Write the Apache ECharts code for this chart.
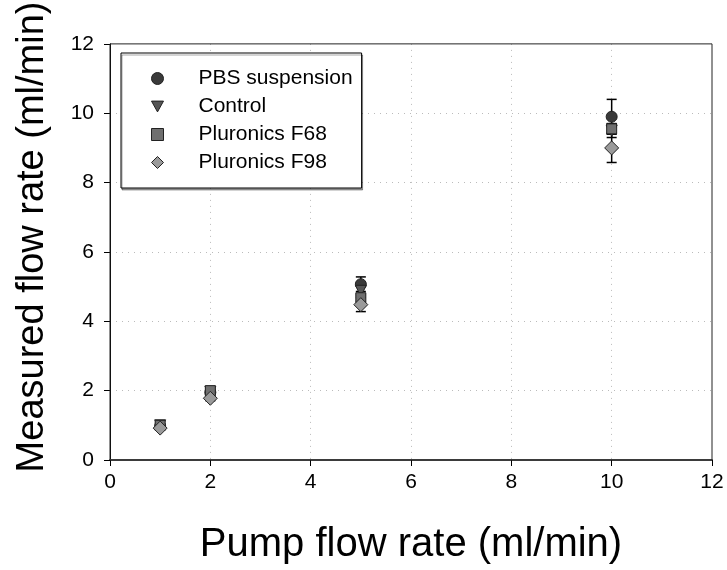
<!DOCTYPE html>
<html><head><meta charset="utf-8">
<script src="https://cdn.jsdelivr.net/npm/echarts@6/dist/echarts.min.js"></script>
<style>html,body{margin:0;padding:0;background:#fff}#c{width:727px;height:570px}</style>
</head><body><div id="c"></div>
<script>
var pumpRates = [1, 2, 5, 10];
var seriesNames = ['PBS suspension', 'Control', 'Pluronics F68', 'Pluronics F98'];
var pbsValues = [0.98, 1.95, 5.07, 9.9];
var pbsErrors = [0.05, 0.05, 0.21, 0.5];
var controlValues = [1.0, 1.97, 4.88, 9.5];
var controlErrors = [0.03, 0.05, 0.15, 0.2];
var f68Values = [1.0, 2.0, 4.68, 9.55];
var f68Errors = [0.03, 0.05, 0.1, 0.15];
var f98Values = [0.92, 1.78, 4.48, 9.0];
var f98Errors = [0.03, 0.07, 0.2, 0.42];
var xTicks = [0, 2, 4, 6, 8, 10, 12];
var yTicks = [0, 2, 4, 6, 8, 10, 12];

var valuesList = [pbsValues, controlValues, f68Values, f98Values];
var errorsList = [pbsErrors, controlErrors, f68Errors, f98Errors];
var colors = ['#3a3a3a', '#555555', '#6f6f6f', '#9a9a9a'];
var symbols = ['circle', 'path://M0,0 L10,0 L5,9 Z', 'rect', 'diamond'];
var sizes = [11, 11, 10, 14];

var chart = echarts.init(document.getElementById('c'));
var series = [];
valuesList.forEach(function (vals, i) {
  var errs = errorsList[i];
  series.push({
    type: 'custom',
    name: seriesNames[i] + ' err',
    z: 1,
    silent: true,
    data: pumpRates.map(function (x, j) { return [x, vals[j] - errs[j], vals[j] + errs[j]]; }),
    renderItem: function (params, api) {
      var lo = api.coord([api.value(0), api.value(1)]);
      var hi = api.coord([api.value(0), api.value(2)]);
      var w = 5;
      var st = { stroke: '#000', lineWidth: 1.5 };
      return { type: 'group', children: [
        { type: 'line', shape: { x1: lo[0], y1: lo[1], x2: hi[0], y2: hi[1] }, style: st },
        { type: 'line', shape: { x1: lo[0] - w, y1: lo[1], x2: lo[0] + w, y2: lo[1] }, style: st },
        { type: 'line', shape: { x1: hi[0] - w, y1: hi[1], x2: hi[0] + w, y2: hi[1] }, style: st }
      ]};
    }
  });
});
valuesList.forEach(function (vals, i) {
  series.push({
    type: 'scatter',
    name: seriesNames[i],
    z: 2 + i,
    symbol: symbols[i],
    symbolSize: sizes[i],
    itemStyle: { color: colors[i], borderColor: '#222', borderWidth: 1, opacity: 1 },
    data: pumpRates.map(function (x, j) { return [x, vals[j]]; })
  });
});

var font = 'Liberation Sans, Arial, sans-serif';
chart.setOption({
  animation: false,
  backgroundColor: '#fff',
  grid: { left: 110, right: 15, top: 43, bottom: 107, show: true, borderColor: '#222', borderWidth: 1, z: 3 },
  legend: {
    data: seriesNames,
    orient: 'vertical',
    left: 121, top: 53,
    padding: [15, 9, 15, 30],
    itemGap: 7,
    itemWidth: 12, itemHeight: 12,
    borderColor: '#000', borderWidth: 1,
    shadowColor: 'rgba(0,0,0,0.35)', shadowOffsetX: 1, shadowOffsetY: 2,
    backgroundColor: '#fff',
    textStyle: { fontFamily: font, fontSize: 21, lineHeight: 21, color: '#000', padding: [0, 0, 0, 30] },
    itemStyle: { borderColor: '#222', borderWidth: 1 }
  },
  xAxis: {
    type: 'value', min: 0, max: 12, interval: 2,
    name: 'Pump flow rate (ml/min)', nameLocation: 'middle', nameGap: 65,
    nameTextStyle: { fontFamily: font, fontSize: 40, color: '#000' },
    axisLine: { onZero: false, lineStyle: { color: '#555', width: 2 } },
    axisTick: { show: true, inside: false, length: 6, lineStyle: { color: '#000' } },
    axisLabel: { fontFamily: font, fontSize: 21, color: '#000', margin: 12,
      formatter: function (v) { return xTicks.indexOf(v) >= 0 ? String(v) : ''; } },
    splitLine: { show: true, showMinLine: false, showMaxLine: false, lineStyle: { color: '#bbb', type: [1, 5], width: 1 } }
  },
  yAxis: {
    type: 'value', min: 0, max: 12, interval: 2,
    name: 'Measured flow rate (ml/min)', nameLocation: 'middle', nameGap: 58,
    nameTextStyle: { fontFamily: font, fontSize: 38, color: '#000', padding: [0, 0, 0, 30] },
    axisLine: { onZero: false, lineStyle: { color: '#000', width: 1 } },
    axisTick: { show: true, inside: false, length: 6, lineStyle: { color: '#000' } },
    axisLabel: { fontFamily: font, fontSize: 21, color: '#000', margin: 16,
      formatter: function (v) { return yTicks.indexOf(v) >= 0 ? String(v) : ''; } },
    splitLine: { show: true, showMinLine: false, showMaxLine: false, lineStyle: { color: '#bbb', type: [1, 5], width: 1 } }
  },
  series: series
});
</script></body></html>
